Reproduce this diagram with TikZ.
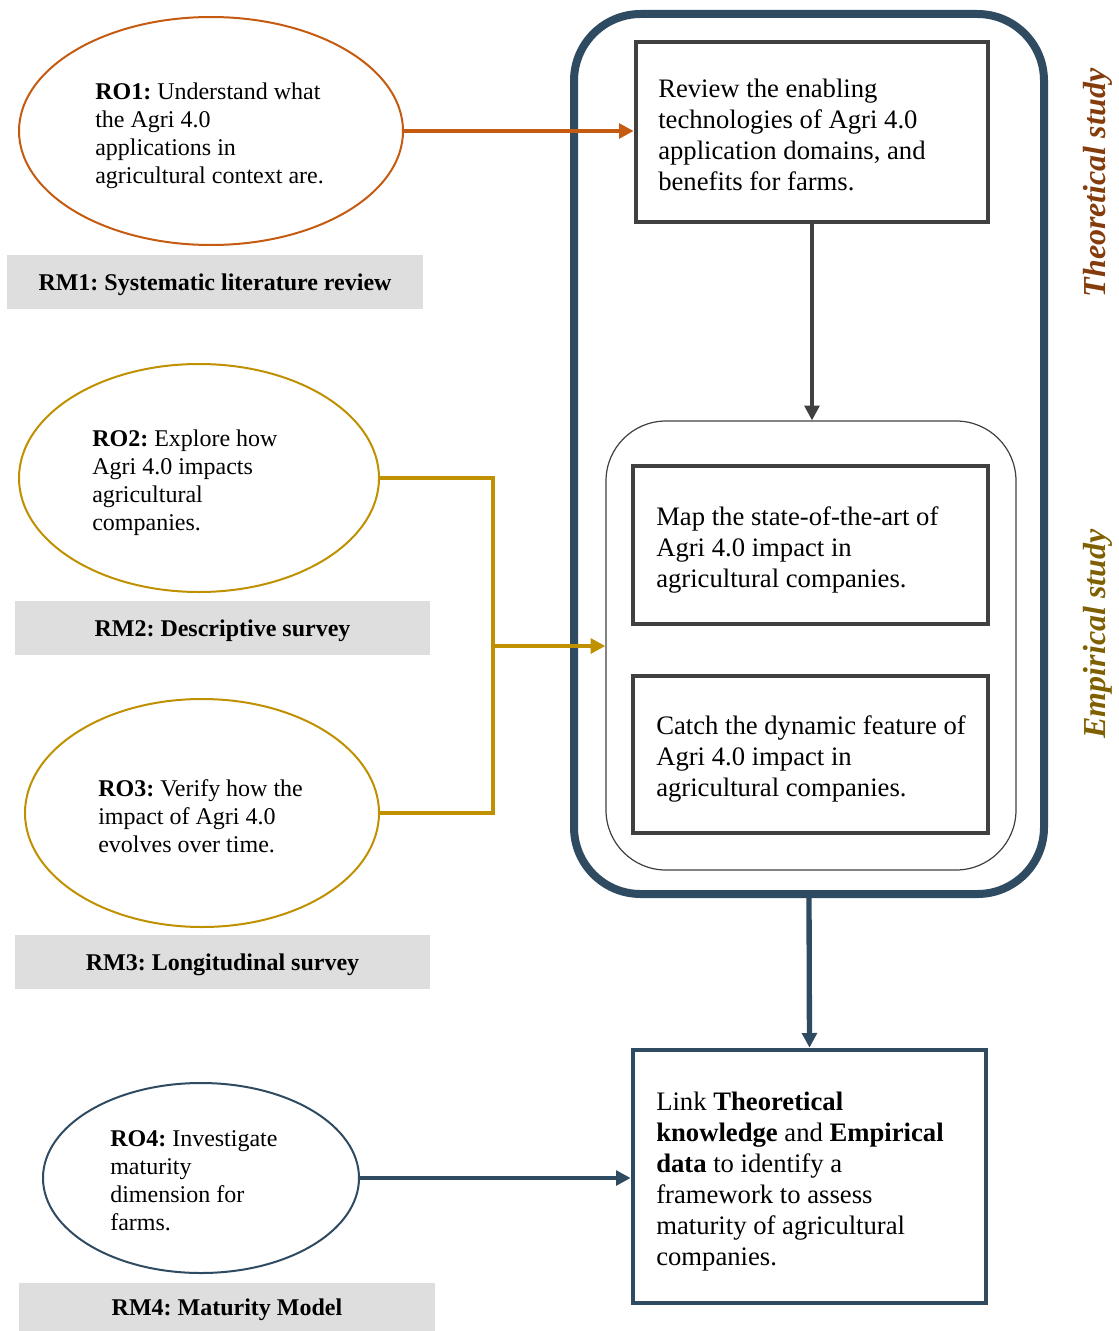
\documentclass[tikz,border=0pt]{standalone}
\usepackage{fontspec}
\setmainfont{Liberation Serif}
\frenchspacing
\usetikzlibrary{shapes.geometric,arrows.meta}
\definecolor{orng}{HTML}{C55A11}
\definecolor{gold}{HTML}{BF9000}
\definecolor{slate}{HTML}{2F4B62}
\definecolor{dgray}{HTML}{404040}
\definecolor{rmgray}{HTML}{DEDEDE}
\definecolor{theo}{HTML}{843C0C}
\definecolor{empi}{HTML}{7F6000}
\tikzset{
  ell/.style={ellipse,draw,line width=1.5pt,inner sep=0pt},
  rmbox/.style={rectangle,fill=rmgray,inner sep=0pt,font=\fontsize{18}{21}\selectfont\bfseries,minimum height=40.5pt,text height=12.7pt,text depth=0pt},
  etext/.style={anchor=west,inner sep=0pt,align=left,font=\fontsize{18}{21}\selectfont},
  btext/.style={anchor=west,inner sep=0pt,align=left,font=\fontsize{20}{23.25}\selectfont},
  taskbox/.style={rectangle,draw=dgray,line width=3.5pt,inner sep=0pt},
  sidelab/.style={rotate=90,inner sep=0pt,font=\fontsize{24}{28}\selectfont\bfseries\itshape},
  tip/.style={-{Triangle[length=11pt,width=11pt]}},
}
\begin{document}
\begin{tikzpicture}[x=0.75pt,y=-0.75pt]
\useasboundingbox (0,0) rectangle (1119,1331);

% big frame
\node[rectangle,draw=slate,line width=6pt,rounded corners=50pt,minimum width=352.5pt,minimum height=660pt,inner sep=0pt] (big) at (809,454) {};
% inner rounded frame
\node[rectangle,draw=dgray,line width=0.9pt,rounded corners=45pt,minimum width=307.5pt,minimum height=336.75pt,inner sep=0pt] (inner) at (811,645.5) {};

% task boxes
\node[taskbox,minimum width=264pt,minimum height=135pt] (b1) at (812,132) {};
\node[taskbox,minimum width=266.25pt,minimum height=118.5pt] (b2) at (810.5,545) {};
\node[taskbox,minimum width=266.25pt,minimum height=117.75pt] (b3) at (810.5,754.5) {};
\node[taskbox,draw=slate,minimum width=264.75pt,minimum height=189.75pt] (b4) at (809.5,1176.5) {};

\node[btext] (t1) at (658,135) {Review the enabling\\technologies of Agri 4.0\\application domains, and\\benefits for farms.};
\node[btext] (t2) at (656,549.5) {Map the state-of-the-art of\\Agri 4.0 impact in\\agricultural companies.};
\node[btext] (t3) at (656,758.5) {Catch the dynamic feature of\\Agri 4.0 impact in\\agricultural companies.};
\node[btext] (t4) at (656,1181.5) {Link \textbf{Theoretical}\\\textbf{knowledge} and \textbf{Empirical}\\\textbf{data} to identify a\\framework to assess\\maturity of agricultural\\companies.};

% ellipses
\node[ell,draw=orng,minimum width=288pt,minimum height=171pt] (e1) at (211,131) {};
\node[ell,draw=gold,minimum width=270pt,minimum height=171pt] (e2) at (199,478) {};
\node[ell,draw=gold,minimum width=265.5pt,minimum height=171pt] (e3) at (202,813) {};
\node[ell,draw=slate,minimum width=237pt,minimum height=142.5pt] (e4) at (201,1178) {};

\node[etext] (o1) at (95,136) {\textbf{RO1:} Understand what\\the Agri 4.0\\applications in\\agricultural context are.};
\node[etext] (o2) at (92,482.5) {\textbf{RO2:} Explore how\\Agri 4.0 impacts\\agricultural\\companies.};
\node[etext] (o3) at (98,816) {\textbf{RO3:} Verify how the\\impact of Agri 4.0\\evolves over time.};
\node[etext] (o4) at (110,1180.5) {\textbf{RO4:} Investigate\\maturity\\dimension for\\farms.};

% RM labels
\node[rmbox,minimum width=312pt] (rm1) at (215,282) {RM1: Systematic literature review};
\node[rmbox,minimum width=311.25pt] (rm2) at (222.5,628) {RM2: Descriptive survey};
\node[rmbox,minimum width=311.25pt] (rm3) at (222.5,962) {RM3: Longitudinal survey};
\node[rmbox,minimum width=312pt,minimum height=36pt] (rm4) at (227,1307) {RM4: Maturity Model};

% side labels
\node[sidelab,text=theo] (th) at (1098,183) {Theoretical study};
\node[sidelab,text=empi] (em) at (1098,634) {Empirical study};

% connectors
\draw[tip,draw=orng,fill=orng,line width=3.5pt] (e1.east) -- (e1.east -| b1.west);
\draw[tip,draw=dgray,fill=dgray,line width=2.5pt] (b1.south) -- (b1.south |- inner.north);
\coordinate (j2) at (493,478);
\coordinate (j3) at (493,813);
\coordinate (jm) at (493,646);
\draw[draw=gold,line width=3.5pt] (e2.east) -- (j2) -- (j3) -- (e3.east);
\draw[tip,draw=gold,fill=gold,line width=3.5pt] (jm) -- (jm -| inner.west);
\draw[tip,draw=slate,fill=slate,line width=4pt] (big.south) -- (b4.north);
\draw[tip,draw=slate,fill=slate,line width=3.5pt] (e4.east) -- (e4.east -| b4.west);
\end{tikzpicture}
\end{document}
